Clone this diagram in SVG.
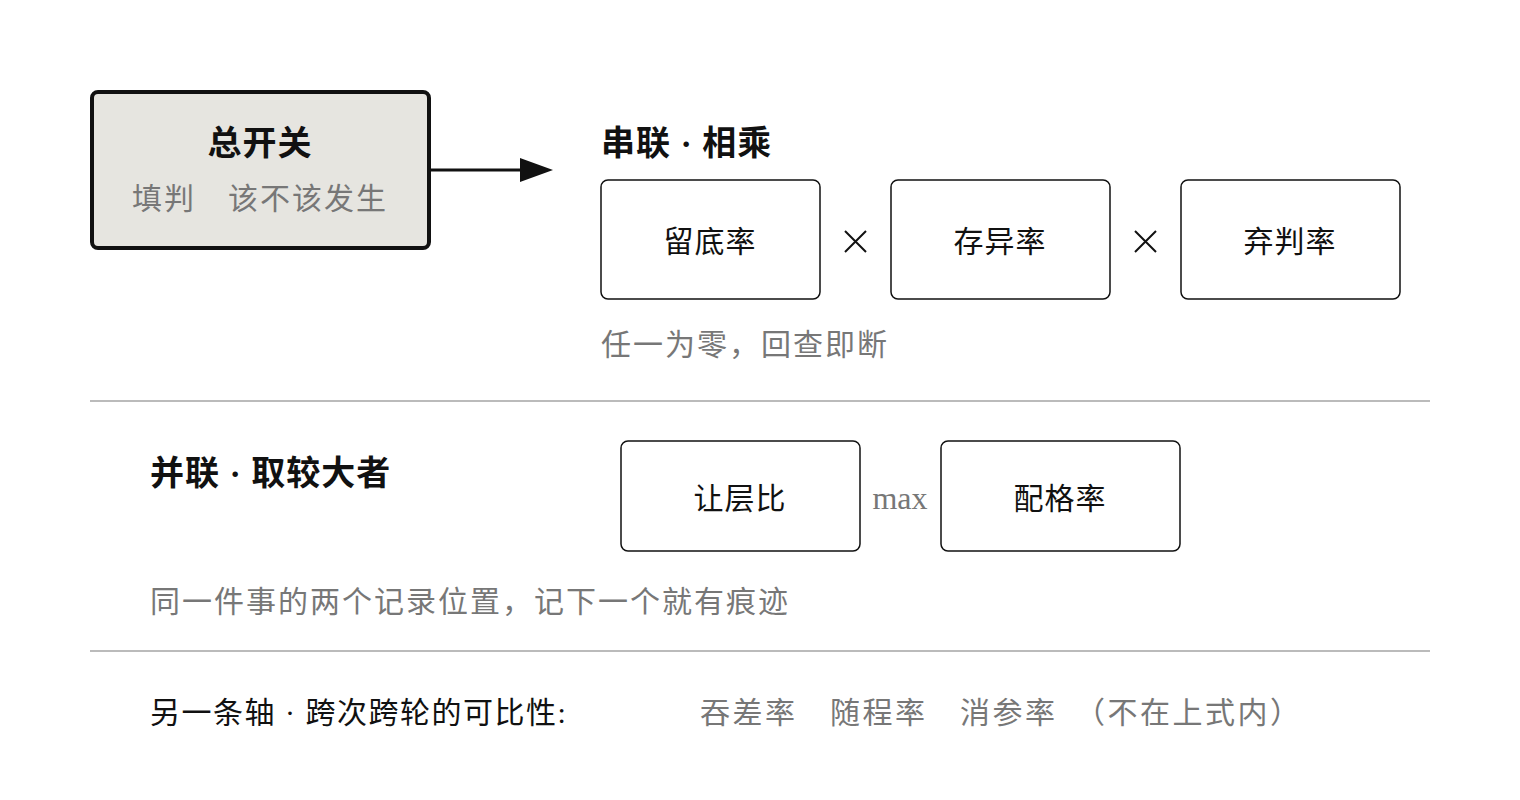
<svg xmlns="http://www.w3.org/2000/svg" width="1520" height="800" viewBox="0 0 1520 800">
<style>
text{font-family:"Liberation Serif","Noto Sans CJK SC",serif;}
.b{fill:#fff;stroke:#111;stroke-width:1.5}
.t{font-size:30px;fill:#111;text-anchor:middle;letter-spacing:1px}
.g{font-size:30px;fill:#777;letter-spacing:2px}
.h{font-size:34px;font-weight:bold;fill:#111;letter-spacing:1px}
.k{font-size:30px;fill:#111;letter-spacing:1.5px}
.x{stroke:#111;stroke-width:2}
.sep{stroke:#bbb;stroke-width:2}
</style>
<rect width="1520" height="800" fill="#fff"/>
<g id="switch"><rect x="92" y="92" width="337" height="156" rx="6" fill="#e6e5e0" stroke="#111" stroke-width="4"/>
<text x="260" y="155" class="h" text-anchor="middle">总开关</text>
<text x="260" y="209" class="g" text-anchor="middle" xml:space="preserve">填判　该不该发生</text></g>
<g id="connectors"><line x1="431" y1="170" x2="522" y2="170" stroke="#111" stroke-width="3"/><path d="M520,158L553,170L520,182z" fill="#111"/></g>
<text x="601" y="155" class="h">串联 · 相乘</text>
<g id="n1"><rect class="b" x="601" y="180" width="219" height="119" rx="7"/><text x="710" y="252" class="t">留底率</text></g>
<path class="x" d="M845,231L866,252M866,231L845,252"/>
<g id="n2"><rect class="b" x="891" y="180" width="219" height="119" rx="7"/><text x="1000" y="252" class="t">存异率</text></g>
<path class="x" d="M1135,231L1156,252M1156,231L1135,252"/>
<g id="n3"><rect class="b" x="1181" y="180" width="219" height="119" rx="7"/><text x="1290" y="252" class="t">弃判率</text></g>
<text x="601" y="355" class="g">任一为零，回查即断</text>
<line class="sep" x1="90" y1="401" x2="1430" y2="401"/>
<text x="150" y="485" class="h">并联 · 取较大者</text>
<g id="n4"><rect class="b" x="621" y="441" width="239" height="110" rx="7"/><text x="740" y="509" class="t">让层比</text></g>
<text x="900" y="509" class="g" text-anchor="middle" style="font-size:32px;letter-spacing:0">max</text>
<g id="n5"><rect class="b" x="941" y="441" width="239" height="110" rx="7"/><text x="1060" y="509" class="t">配格率</text></g>
<text x="150" y="612" class="g">同一件事的两个记录位置，记下一个就有痕迹</text>
<line class="sep" x1="90" y1="651" x2="1430" y2="651"/>
<text x="150" y="723" class="k">另一条轴 · 跨次跨轮的可比性:</text>
<text x="700" y="723" class="g" xml:space="preserve" style="letter-spacing:2.5px">吞差率　随程率　消参率　（不在上式内）</text>
</svg>
